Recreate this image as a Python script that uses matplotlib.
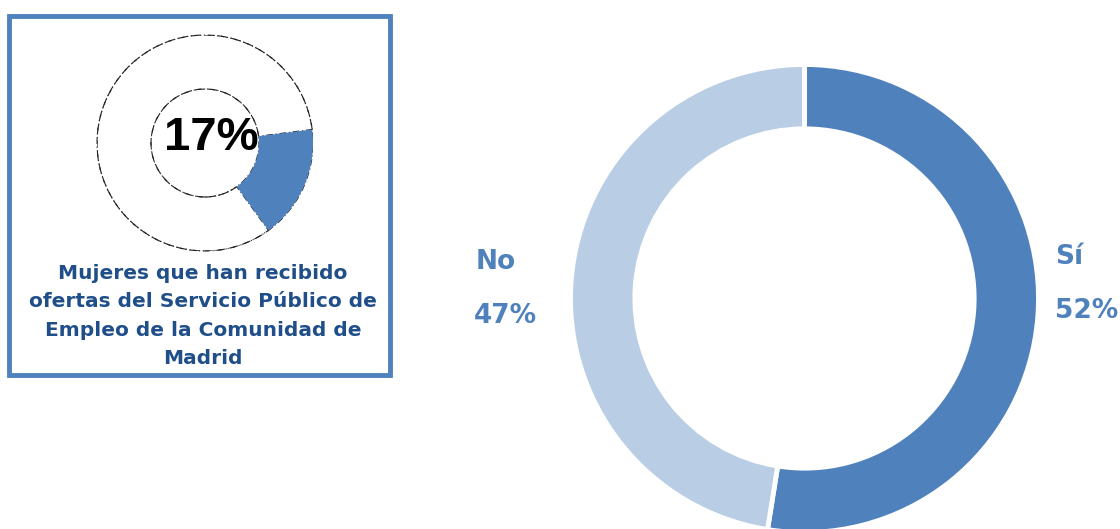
import matplotlib
matplotlib.use("Agg")
import matplotlib.pyplot as plt
from matplotlib.patches import Rectangle, Circle

# Data
main_labels = ["Sí", "No"]
main_values = [52, 47]
inset_value = 17
inset_caption = "Mujeres que han recibido\nofertas del Servicio Público de\nEmpleo de la Comunidad de\nMadrid"

DARK_BLUE = "#4F81BD"
LIGHT_BLUE = "#B9CDE5"
CAPTION_BLUE = "#1F4E89"
DASH_DOT = (0, (6, 2.5, 1, 2.5))

W, H = 1120, 529
fig = plt.figure(figsize=(W / 100, H / 100), dpi=100)
fig.patch.set_facecolor("white")


def px_axes(cx, cy, r):
    """Square axes centred on pixel (cx, cy) (origin top-left) with radius r."""
    ax = fig.add_axes([(cx - r) / W, (H - cy - r) / H, 2 * r / W, 2 * r / H])
    ax.axis("off")
    return ax


def fix_limits(ax):
    ax.set_xlim(-1, 1)
    ax.set_ylim(-1, 1)
    ax.set_aspect("equal")


# Main donut
ax = px_axes(804.5, 298.5, 234)
ax.pie(main_values, colors=[DARK_BLUE, LIGHT_BLUE], startangle=90,
       counterclock=False, radius=1,
       wedgeprops=dict(width=0.275, edgecolor="white", linewidth=3.5))
fix_limits(ax)
for p in ax.patches:
    p.set_clip_on(False)

label_font = dict(fontsize=19, fontweight="bold", color=DARK_BLUE,
                  family="DejaVu Sans")
fig.text(1055 / W, 1 - 257 / H, main_labels[0], ha="left", va="center", **label_font)
fig.text(1055 / W, 1 - 311 / H, f"{main_values[0]}%", ha="left", va="center", **label_font)
fig.text(476 / W, 1 - 262 / H, main_labels[1], ha="left", va="center", **label_font)
fig.text(474 / W, 1 - 316 / H, f"{main_values[1]}%", ha="left", va="center", **label_font)

# Inset frame
fig.patches.append(Rectangle((9 / W, 1 - 375 / H), 381 / W, 359 / H,
                             transform=fig.transFigure, fill=False,
                             edgecolor=DARK_BLUE, linewidth=3.5))

# Inset donut
ax2 = px_axes(205, 143, 108)
wedges, _ = ax2.pie([inset_value, 100 - inset_value], colors=[DARK_BLUE, "none"],
                    startangle=7.2, counterclock=False, radius=1,
                    wedgeprops=dict(width=0.5, linewidth=0))
fix_limits(ax2)
ax2.add_patch(Circle((0, 0), 1, fill=False, edgecolor="#222222",
                     linestyle=DASH_DOT, linewidth=0.8, zorder=1))
ax2.add_patch(Circle((0, 0), 0.5, fill=False, edgecolor="#222222",
                     linestyle=DASH_DOT, linewidth=0.8, zorder=1))
wedges[0].set_zorder(3)
wedges[1].set_edgecolor("#222222")
wedges[1].set_linewidth(0.8)
wedges[1].set_linestyle(DASH_DOT)
wedges[1].set_zorder(2)

fig.text(211 / W, 1 - 138 / H, f"{inset_value}%", ha="center", va="center",
         fontsize=34, fontweight="bold", color="black", family="Liberation Sans",
         zorder=5)

fig.text(203 / W, 1 - 316 / H, inset_caption, ha="center", va="center",
         multialignment="center", fontsize=14.5, fontweight="bold",
         color=CAPTION_BLUE, family="DejaVu Sans", linespacing=1.62)

fig.savefig("out.png", dpi=100, facecolor="white")
